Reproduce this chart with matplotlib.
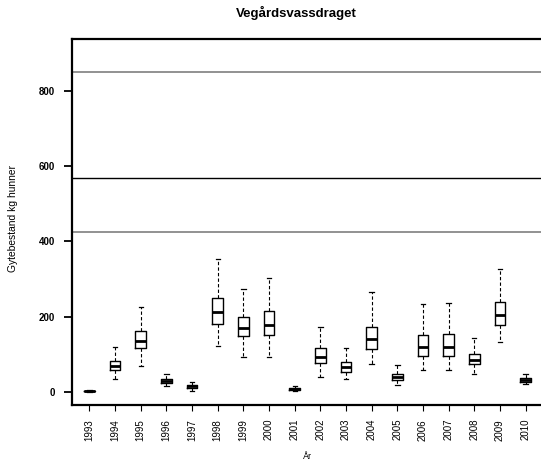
import matplotlib
matplotlib.use("Agg")
import matplotlib.pyplot as plt

plt.rcParams['font.family'] = ['Liberation Sans', 'DejaVu Sans']

years = [str(y) for y in range(1993, 2011)]
whislo = [0, 33, 68, 14, 2, 123, 92, 92, 3, 39, 35, 74, 17, 57, 57, 46, 132, 20]
q1 = [1, 58, 116, 22, 10, 180, 149, 151, 5, 77, 52, 114, 31, 96, 96, 74, 178, 27]
med = [2, 68, 134, 28, 14, 212, 170, 178, 8, 93, 65, 139, 39, 120, 120, 85, 204, 31]
q3 = [3, 82, 161, 34, 19, 250, 200, 214, 11, 116, 78, 173, 47, 150, 153, 100, 239, 36]
whishi = [5, 118, 226, 47, 27, 354, 273, 304, 16, 171, 116, 265, 70, 234, 236, 142, 326, 46]

ref_upper = 851
ref_mid = 568
ref_lower = 426

title = "Vegårdsvassdraget"
ylabel = "Gytebestand kg hunner"
xlabel = "År"

fig = plt.figure(figsize=(5.41, 4.66), dpi=100)
ax = fig.add_axes([71.7/541, 1-405/466, (543.6-71.7)/541, (405-39)/466])

stats = []
for i in range(len(years)):
    stats.append(dict(label=years[i], whislo=whislo[i], q1=q1[i], med=med[i],
                      q3=q3[i], whishi=whishi[i], fliers=[]))

ax.axhline(ref_upper, color='#7f7f7f', lw=1.2, zorder=1)
ax.axhline(ref_mid, color='black', lw=1.0, zorder=1)
ax.axhline(ref_lower, color='#7f7f7f', lw=1.2, zorder=1)

ax.bxp(stats, positions=range(1, len(years)+1), widths=0.42, showfliers=False,
       boxprops=dict(color='black', lw=1.0),
       medianprops=dict(color='black', lw=2.0),
       whiskerprops=dict(color='black', lw=0.8, linestyle=(0, (3, 2))),
       capprops=dict(color='black', lw=0.9), capwidths=0.17, zorder=3)

ax.set_xlim(0.31, 18.7)
ax.set_ylim(-35.4, 939)
ax.set_yticks([0, 200, 400, 600, 800])
ax.set_yticklabels(['0', '200', '400', '600', '800'], fontsize=7, fontweight='bold')
ax.set_xticks(range(1, len(years)+1))
ax.set_xticklabels(years, rotation=90, fontsize=7)
ax.tick_params(axis='y', length=6, width=1.3, pad=6)
ax.tick_params(axis='x', length=4, width=0.8, pad=6)
for s in ['left', 'bottom', 'top']:
    ax.spines[s].set_linewidth(1.6)
ax.spines['right'].set_visible(False)

ax.set_xlabel(xlabel, fontsize=6.5, labelpad=8)
ax.set_ylabel(ylabel, fontsize=7.4)
ax.yaxis.set_label_coords(-(71.7-18)/(543.6-71.7), (405-218)/366)
fig.text(296/541, 1-13/466, title, fontsize=9.5, fontweight='bold', ha='center', va='center')

fig.savefig('out.png', dpi=100)
